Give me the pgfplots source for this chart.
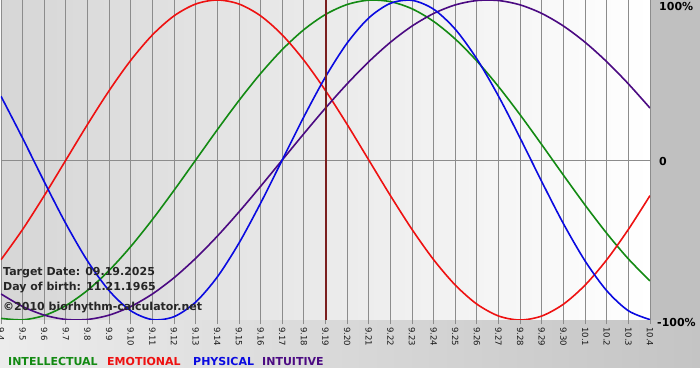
\documentclass[border=0pt]{standalone}
\usepackage{pgfplots}
\usepackage{pgfplotstable}
\pgfplotsset{compat=1.18}
\usepackage{fontspec}
\setmainfont{DejaVu Sans}
\definecolor{cInt}{HTML}{138A13}
\definecolor{cEmo}{HTML}{EE1111}
\definecolor{cPhy}{HTML}{0A0AE0}
\definecolor{cItu}{HTML}{4B0A82}
\definecolor{gridg}{HTML}{8C8C8C}
\definecolor{target}{HTML}{7A1F1F}
\definecolor{bgL}{HTML}{D6D6D6}
\definecolor{bgR}{HTML}{FFFFFF}
\definecolor{botL}{HTML}{ECECEC}
\definecolor{botR}{HTML}{C4C4C4}
\definecolor{marg}{HTML}{C0C0C0}

\pgfplotstableread{
i  int       emo       phy       itu
0  -0.98982  -0.62349   0.39840  -0.83717
1  -0.99887  -0.43388   0.13617  -0.91577
2  -0.97181  -0.22252  -0.13617  -0.96940
3  -0.90963   0        -0.39840  -0.99658
4  -0.81458   0.22252  -0.63109  -0.99658
5  -0.69008   0.43388  -0.81697  -0.96940
6  -0.54064   0.62349  -0.94226  -0.91577
7  -0.37166   0.78183  -0.99767  -0.83717
8  -0.18925   0.90097  -0.97908  -0.73572
9   0         0.97493  -0.88789  -0.61421
10  0.18925   1        -0.73084  -0.47595
11  0.37166   0.97493  -0.51958  -0.32470
12  0.54064   0.90097  -0.26980  -0.16459
13  0.69008   0.78183   0         0
14  0.81458   0.62349   0.26980   0.16459
15  0.90963   0.43388   0.51958   0.32470
16  0.97181   0.22252   0.73084   0.47595
17  0.99887   0         0.88789   0.61421
18  0.98982  -0.22252   0.97908   0.73572
19  0.94500  -0.43388   0.99767   0.83717
20  0.86603  -0.62349   0.94226   0.91577
21  0.75575  -0.78183   0.81697   0.96940
22  0.61816  -0.90097   0.63109   0.99658
23  0.45822  -0.97493   0.39840   0.99658
24  0.28173  -1         0.13617   0.96940
25  0.09506  -0.97493  -0.13617   0.91577
26 -0.09506  -0.90097  -0.39840   0.83717
27 -0.28173  -0.78183  -0.63109   0.73572
28 -0.45822  -0.62349  -0.81697   0.61421
29 -0.61816  -0.43388  -0.94226   0.47595
30 -0.75575  -0.22252  -0.99767   0.32470
}\bio

\begin{document}
\begin{tikzpicture}
\useasboundingbox (0,0) rectangle (700bp,380bp);
\fill[white] (0,0) rectangle (700bp,380bp);
\shade[left color=botL, right color=botR] (0,12bp) rectangle (700bp,60bp);
\fill[marg] (650bp,60bp) rectangle (700bp,380bp);
\begin{axis}[
  at={(1bp,60bp)}, anchor=south west, scale only axis,
  width=649bp, height=320bp,
  xmin=0, xmax=30, ymin=-1, ymax=1,
  axis line style={draw=none},
  axis background/.style={left color=bgL, right color=bgR},
  xtick={0,...,30},
  xticklabels={9.4,9.5,9.6,9.7,9.8,9.9,9.10,9.11,9.12,9.13,9.14,9.15,9.16,9.17,9.18,9.19,9.20,9.21,9.22,9.23,9.24,9.25,9.26,9.27,9.28,9.29,9.30,10.1,10.2,10.3,10.4},
  xticklabel shift=3bp,
  xticklabel style={rotate=-90, anchor=west, inner sep=0pt, text=black!90,
    font=\fontsize{8.5bp}{9bp}\selectfont},
  xmajorgrids,
  major grid style={gridg, line width=0.9bp},
  tick align=outside, major tick length=4bp,
  tick style={gridg, line width=0.9bp},
  ytick=\empty,
]
\addplot[gridg, line width=0.9bp] coordinates {(0,0) (30,0)};
\addplot[cInt, line width=1.6bp, smooth] table[x=i, y=int] {\bio};
\addplot[cEmo, line width=1.6bp, smooth] table[x=i, y=emo] {\bio};
\addplot[cItu, line width=1.6bp, smooth] table[x=i, y=itu] {\bio};
\addplot[cPhy, line width=1.6bp, smooth] table[x=i, y=phy] {\bio};
\addplot[target, line width=2bp] coordinates {(15,-1) (15,1)};
\end{axis}
\begin{scope}[every node/.style={anchor=base west, inner sep=0pt,
    font=\bfseries\fontsize{11bp}{13bp}\selectfont}]
\node[text=black!85] at (3bp,104bp) {Target Date: 09.19.2025};
\node[text=black!85] at (3bp,89.7bp) {Day of birth: 11.21.1965};
\node[text=black!85] at (3bp,69.7bp) {©2010 biorhythm-calculator.net};
\node[text=cInt] at (8bp,14.7bp) {INTELLECTUAL};
\node[text=cEmo] at (107bp,14.7bp) {EMOTIONAL};
\node[text=cPhy] at (193bp,14.7bp) {PHYSICAL};
\node[text=cItu] at (262bp,14.7bp) {INTUITIVE};
\node at (659bp,369bp) {100\%};
\node at (659bp,214bp) {0};
\node at (657bp,53.3bp) {-100\%};
\end{scope}
\end{tikzpicture}
\end{document}
